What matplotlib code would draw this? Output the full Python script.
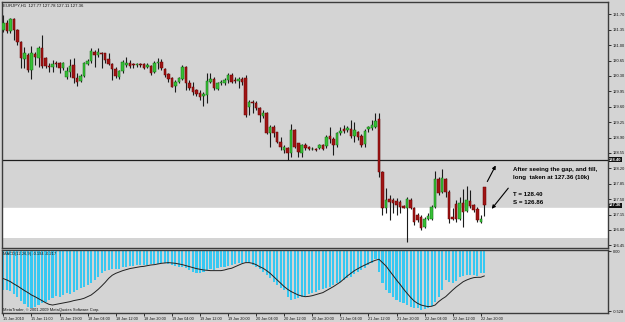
import matplotlib
matplotlib.use("Agg")
import matplotlib.pyplot as plt
import numpy as np

plt.rcParams['font.family'] = ['Liberation Sans', 'DejaVu Sans']

# ---------------- data ----------------
opens = [131.34, 131.51, 131.33, 131.59, 131.34, 131.08, 130.68, 130.78, 130.43, 130.80,
         130.71, 130.93, 130.71, 130.53, 130.50, 130.59, 130.59, 130.48, 130.28, 130.39,
         130.55, 130.25, 130.18, 130.30, 130.57, 130.64, 130.84, 130.78, 130.83, 130.82,
         130.68, 130.57, 130.46, 130.28, 130.41, 130.55, 130.59, 130.57, 130.54, 130.56,
         130.57, 130.50, 130.53, 130.39, 130.59, 130.62, 130.46, 130.34, 130.25, 130.07,
         130.16, 130.23, 130.50, 130.14, 130.05, 129.98, 129.91, 129.84, 129.87, 130.16,
         130.23, 130.00, 130.14, 130.14, 130.21, 130.32, 130.21, 130.18, 130.23, 130.25,
         129.59, 129.71, 129.68, 129.57, 129.39, 129.46, 129.00, 129.14, 129.02, 128.80,
         128.62, 128.66, 128.55, 129.07, 128.77, 128.55, 128.73, 128.68, 128.63, 128.64,
         128.66, 128.73, 128.71, 128.93, 128.87, 128.73, 129.00, 129.09, 129.07, 129.09,
         128.93, 129.02, 128.93, 128.75, 129.09, 129.11, 129.14, 129.32, 128.12, 127.30,
         127.50, 127.48, 127.46, 127.44, 127.34, 127.31, 127.48, 127.29, 127.14, 127.10,
         126.86, 127.06, 127.06, 127.33, 127.95, 127.67, 127.95, 127.67, 127.09, 127.40,
         127.06, 127.42, 127.24, 127.46, 127.37, 127.27, 126.99, 127.77]
highs = [131.68, 131.57, 131.61, 131.61, 131.37, 131.09, 130.96, 130.82, 130.98, 130.85,
         130.98, 131.23, 130.73, 130.59, 130.66, 130.64, 130.62, 130.62, 130.51, 130.68,
         130.70, 130.36, 130.34, 130.62, 130.68, 130.93, 130.89, 130.93, 130.85, 130.83,
         130.81, 130.59, 130.51, 130.43, 130.66, 130.73, 130.66, 130.60, 130.59, 130.59,
         130.59, 130.59, 130.55, 130.64, 130.71, 130.68, 130.47, 130.36, 130.28, 130.21,
         130.28, 130.55, 130.53, 130.21, 130.17, 130.00, 129.98, 129.93, 130.37, 130.37,
         130.28, 130.17, 130.21, 130.25, 130.36, 130.36, 130.27, 130.28, 130.28, 130.32,
         129.75, 129.75, 129.73, 129.59, 129.53, 129.48, 129.18, 129.18, 129.03, 128.92,
         128.73, 128.68, 129.21, 129.09, 128.78, 128.75, 128.77, 128.71, 128.68, 128.66,
         128.75, 128.75, 128.96, 129.14, 128.92, 129.03, 129.14, 129.18, 129.16, 129.30,
         129.26, 129.05, 128.99, 129.09, 129.16, 129.30, 129.46, 129.46, 128.14, 127.75,
         127.59, 127.52, 127.52, 127.48, 127.37, 127.55, 127.52, 127.33, 127.18, 127.14,
         127.10, 127.18, 127.37, 128.15, 128.01, 128.18, 127.98, 127.71, 127.29, 127.49,
         127.54, 127.74, 127.80, 127.71, 127.40, 127.33, 127.14, 127.78]
lows = [131.30, 131.28, 131.28, 131.12, 131.00, 130.48, 130.48, 130.40, 130.23, 130.55,
        130.51, 130.48, 130.47, 130.40, 130.40, 130.51, 130.36, 130.43, 130.22, 130.28,
        130.15, 130.07, 130.16, 130.28, 130.55, 130.59, 130.51, 130.74, 130.47, 130.59,
        130.55, 130.21, 130.25, 130.22, 130.36, 130.50, 130.48, 130.48, 130.50, 130.50,
        130.46, 130.48, 130.32, 130.36, 130.46, 130.43, 130.28, 130.17, 130.04, 129.94,
        130.13, 130.21, 129.98, 129.98, 129.87, 129.84, 129.75, 129.62, 129.68, 130.13,
        129.98, 129.98, 130.09, 130.09, 130.15, 130.13, 130.13, 130.02, 130.09, 129.36,
        129.41, 129.46, 129.53, 129.26, 129.34, 128.98, 128.69, 128.92, 128.77, 128.62,
        128.54, 128.39, 128.46, 128.66, 128.46, 128.46, 128.62, 128.62, 128.62, 128.59,
        128.64, 128.62, 128.66, 128.77, 128.50, 128.69, 128.96, 129.00, 129.02, 128.88,
        128.80, 128.84, 128.69, 128.69, 129.03, 129.07, 129.11, 128.01, 127.14, 127.18,
        127.02, 127.18, 127.14, 127.18, 127.29, 126.53, 127.27, 126.91, 126.99, 126.80,
        126.84, 127.02, 127.02, 127.29, 127.59, 127.63, 127.55, 126.95, 127.02, 126.99,
        127.02, 126.87, 127.21, 127.29, 127.21, 126.99, 126.96, 127.11]
closes = [131.51, 131.33, 131.59, 131.34, 131.08, 130.70, 130.82, 130.43, 130.82, 130.73,
          130.93, 130.53, 130.53, 130.50, 130.57, 130.57, 130.48, 130.59, 130.41, 130.53,
          130.25, 130.16, 130.30, 130.59, 130.64, 130.87, 130.78, 130.84, 130.80, 130.66,
          130.57, 130.46, 130.30, 130.41, 130.62, 130.60, 130.53, 130.55, 130.56, 130.54,
          130.48, 130.55, 130.37, 130.59, 130.62, 130.48, 130.32, 130.23, 130.05, 130.16,
          130.25, 130.50, 130.14, 130.02, 129.93, 129.89, 129.82, 129.89, 130.18, 130.23,
          130.02, 130.14, 130.16, 130.21, 130.32, 130.16, 130.18, 130.23, 130.16, 129.41,
          129.71, 129.68, 129.57, 129.41, 129.46, 129.00, 129.14, 129.00, 128.80, 128.68,
          128.68, 128.55, 129.07, 128.68, 128.57, 128.73, 128.66, 128.64, 128.65, 128.62,
          128.73, 128.64, 128.91, 128.87, 128.73, 129.00, 129.05, 129.05, 129.11, 128.93,
          129.07, 128.91, 128.73, 129.05, 129.14, 129.18, 129.28, 128.12, 127.30, 127.48,
          127.43, 127.41, 127.37, 127.33, 127.31, 127.50, 127.29, 126.99, 127.02, 126.84,
          127.06, 127.12, 127.33, 127.95, 127.63, 127.97, 127.67, 127.06, 127.06, 127.06,
          127.42, 127.21, 127.48, 127.34, 127.25, 127.02, 127.06, 127.36]

macd_main = [-0.342, -0.342, -0.347, -0.377, -0.407, -0.436, -0.466, -0.489, -0.504, -0.489,
             -0.475, -0.460, -0.445, -0.430, -0.415, -0.395, -0.401, -0.386, -0.371, -0.377,
             -0.356, -0.342, -0.327, -0.312, -0.297, -0.276, -0.253, -0.223, -0.194, -0.176,
             -0.164, -0.158, -0.158, -0.152, -0.140, -0.135, -0.129, -0.126, -0.123, -0.120,
             -0.120, -0.117, -0.114, -0.111, -0.108, -0.105, -0.105, -0.111, -0.120, -0.129,
             -0.135, -0.140, -0.149, -0.164, -0.179, -0.188, -0.194, -0.185, -0.164, -0.158,
             -0.164, -0.149, -0.140, -0.135, -0.126, -0.117, -0.111, -0.105, -0.099, -0.096,
             -0.105, -0.120, -0.135, -0.158, -0.179, -0.208, -0.238, -0.268, -0.297, -0.327,
             -0.342, -0.407, -0.430, -0.424, -0.415, -0.407, -0.395, -0.380, -0.365, -0.356,
             -0.342, -0.333, -0.321, -0.312, -0.297, -0.282, -0.268, -0.253, -0.238, -0.223,
             -0.203, -0.182, -0.164, -0.143, -0.120, -0.099, -0.069, -0.179, -0.282, -0.342,
             -0.371, -0.401, -0.430, -0.445, -0.460, -0.475, -0.489, -0.498, -0.504, -0.519,
             -0.510, -0.504, -0.481, -0.445, -0.401, -0.342, -0.253, -0.268, -0.282, -0.259,
             -0.229, -0.217, -0.208, -0.208, -0.208, -0.217, -0.194, -0.194]
macd_signal = [-0.241, -0.253, -0.268, -0.288, -0.306, -0.327, -0.347, -0.365, -0.386, -0.401,
               -0.418, -0.436, -0.454, -0.469, -0.475, -0.469, -0.463, -0.457, -0.451, -0.445,
               -0.436, -0.430, -0.424, -0.415, -0.401, -0.386, -0.362, -0.336, -0.306, -0.274,
               -0.238, -0.211, -0.194, -0.182, -0.170, -0.161, -0.152, -0.146, -0.140, -0.135,
               -0.132, -0.126, -0.120, -0.117, -0.111, -0.105, -0.102, -0.099, -0.102, -0.105,
               -0.111, -0.117, -0.126, -0.135, -0.143, -0.152, -0.158, -0.164, -0.167, -0.170,
               -0.170, -0.170, -0.170, -0.164, -0.155, -0.149, -0.135, -0.120, -0.108, -0.099,
               -0.099, -0.105, -0.117, -0.135, -0.149, -0.170, -0.194, -0.223, -0.253, -0.282,
               -0.312, -0.336, -0.356, -0.371, -0.386, -0.395, -0.401, -0.398, -0.392, -0.383,
               -0.374, -0.365, -0.347, -0.330, -0.312, -0.291, -0.271, -0.244, -0.217, -0.194,
               -0.170, -0.152, -0.135, -0.120, -0.105, -0.090, -0.078, -0.069, -0.099, -0.129,
               -0.170, -0.211, -0.253, -0.291, -0.333, -0.371, -0.407, -0.439, -0.460, -0.475,
               -0.483, -0.489, -0.486, -0.475, -0.445, -0.421, -0.401, -0.371, -0.342, -0.315,
               -0.291, -0.268, -0.253, -0.241, -0.232, -0.229, -0.229, -0.217]

price_ticks = [131.70, 131.35, 131.00, 130.65, 130.30, 129.95, 129.60, 129.25,
               128.90, 128.55, 128.20, 127.85, 127.50, 127.15, 126.80, 126.45]
time_labels = ["15 Jan 2010", "15 Jan 11:00", "15 Jan 19:00", "18 Jan 04:00", "18 Jan 12:00",
               "18 Jan 20:00", "19 Jan 04:00", "19 Jan 12:00", "19 Jan 20:00", "20 Jan 04:00",
               "20 Jan 12:00", "20 Jan 20:00", "21 Jan 04:00", "21 Jan 12:00", "21 Jan 20:00",
               "22 Jan 04:00", "22 Jan 12:00", "22 Jan 20:00"]
label_step = 8
target_price = 128.40
bid_price = 127.36
band_low, band_high = 126.62, 127.27

header = "EURJPY,H1  127.77 127.78 127.11 127.36"
macd_title = "MACD(12,26,9) -0.194 -0.217"
footer = "MetaTrader, \u00a9 2001-2009 MetaQuotes Software Corp."
note_lines = ["After seeing the gap, and fill,", "long  taken at 127.36 (10k)", "T = 128.40", "S = 126.86"]

# ---------------- drawing ----------------
BG = '#d4d4d4'
FRAME = '#3c3c3c'
W, H = 625, 322
fig = plt.figure(figsize=(W / 100, H / 100), dpi=100, facecolor=BG)


def rect(x0, y0, x1, y1):
    return [x0 / W, 1 - y1 / H, (x1 - x0) / W, (y1 - y0) / H]


ax = fig.add_axes(rect(2, 2, 608, 248))
ax2 = fig.add_axes(rect(2, 250, 608, 312.7), sharex=ax)
for a in (ax, ax2):
    a.set_facecolor(BG)
    for s in a.spines.values():
        s.set_color(FRAME)
        s.set_linewidth(1.0)

o = np.array(opens); h = np.array(highs); l = np.array(lows); c = np.array(closes)
x = np.arange(len(o))
up = c >= o

ax.axhspan(band_low, band_high, color='white', zorder=0.5, lw=0)
ax.axhline(band_high + 0.04, color='white', lw=1.0, zorder=0.6)
ax.axhline(target_price, color='#1e1e1e', lw=0.9, zorder=0.7)

ax.vlines(x, l, h, color='#1a1a1a', lw=0.8, zorder=2)
body_bottom = np.minimum(o, c)
body_h = np.maximum(np.abs(c - o), 0.012)
ax.bar(x[up], body_h[up], bottom=body_bottom[up], width=0.72,
       color='#36c036', edgecolor='#157015', lw=0.35, zorder=3)
ax.bar(x[~up], body_h[~up], bottom=body_bottom[~up], width=0.72,
       color='#a01414', edgecolor='#6a0000', lw=0.35, zorder=3)

ax.set_xlim(-0.4, -0.4 + 606 / 3.51)
ax.set_ylim(126.39, 131.98)
ax.yaxis.tick_right()
ax.set_yticks(price_ticks)
ax.set_yticklabels([f"{p:.2f}" for p in price_ticks])
ax.tick_params(axis='y', length=2, width=0.6, pad=1.5, labelsize=2.9, colors='#111111')
ax.tick_params(axis='x', bottom=False, labelbottom=False)

ytr = ax.get_yaxis_transform()
for val in (target_price, bid_price):
    ax.text(1.002, val, f"{val:.2f}", transform=ytr, ha='left', va='center', fontsize=2.9,
            color='white', fontweight='bold',
            bbox=dict(facecolor='#111111', edgecolor='none', pad=0.5), zorder=5, clip_on=False)

# MACD
ax2.bar(x, macd_main, width=0.6, color='#36c8f2', lw=0, zorder=2)
ax2.plot(x, macd_signal, color='#202020', lw=0.7, zorder=3)
ax2.set_ylim(-0.543, 0.013)
ax2.yaxis.tick_right()
ax2.set_yticks([0.0, -0.528])
ax2.set_yticklabels(["0.00", "-0.528"])
ax2.tick_params(axis='y', length=2, width=0.6, pad=1.5, labelsize=2.9, colors='#111111')
ax2.set_xticks(x[::label_step])
ax2.set_xticklabels(time_labels, ha='left')
ax2.tick_params(axis='x', length=2, width=0.6, pad=1.0, labelsize=2.7, colors='#111111')

fig.text(3 / W, 1 - 5.5 / H, header, fontsize=3.1, va='center', ha='left', color='#111111')
fig.text(3 / W, 1 - 254 / H, macd_title, fontsize=2.9, va='center', ha='left', color='#111111')
fig.text(3 / W, 1 - 309.5 / H, footer, fontsize=2.9, va='center', ha='left', color='#111111')

for txt, ypix in zip(note_lines, [169, 178, 194, 203]):
    fig.text(513 / W, 1 - ypix / H, txt, fontsize=4.4, fontweight='bold', va='center',
             ha='left', color='black')

ax.annotate('', xy=(497, 322 - 163), xytext=(486, 322 - 184), xycoords='figure pixels',
            textcoords='figure pixels',
            arrowprops=dict(arrowstyle='-|>', color='black', lw=0.8, mutation_scale=5))
ax.annotate('', xy=(490, 322 - 211), xytext=(510, 322 - 186), xycoords='figure pixels',
            textcoords='figure pixels',
            arrowprops=dict(arrowstyle='-|>', color='black', lw=0.8, mutation_scale=5))

fig.savefig('out.png', dpi=100, facecolor=BG)
